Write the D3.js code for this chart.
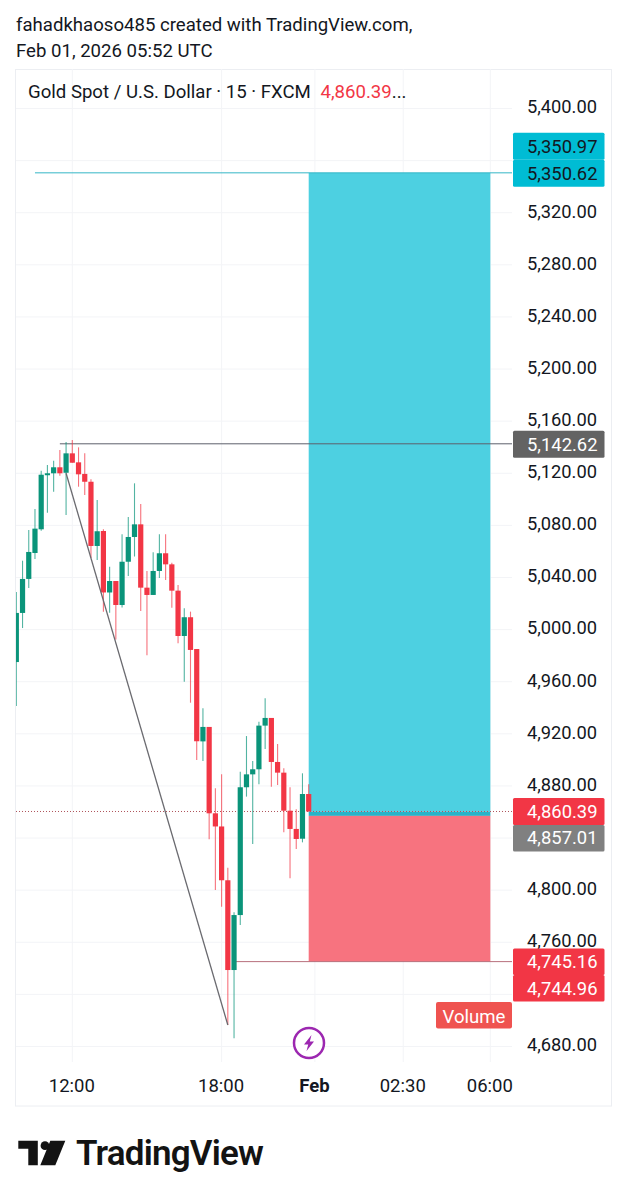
<!DOCTYPE html>
<html><head><meta charset="utf-8">
<script src="https://cdn.jsdelivr.net/npm/d3@7"></script>
<style>
html,body{margin:0;padding:0;background:#fff}
svg{display:block}
text{font-family:Roboto,sans-serif}
</style></head><body>
<div id="chart"></div>
<script>
const firstBar = -9;
const highs  = [5028.9,5052.9,5076.5,5092.6,5122.0,5126.4,5129.7,5137.9,5144.0,5145.5,5139.9,5135.3,5115.4,5099.5,5077.0,5048.3,5037.3,5073.2,5086.4,5112.3,5096.4,5045.0,5059.4,5073.2,5073.2,5051.4,5034.3,5016.4,5013.8,4985.1,4939.6,4925.3,4878.2,4888.9,4817.3,4783.0,4890.9,4918.3,4899.2,4929.3,4947.3,4932.2,4912.2,4893.6,4879.0,4862.1,4889.7,4881.3];
const opens  = [4975.1,5012.8,5038.9,5058.8,5077.0,5118.5,5120.0,5124.6,5120.4,5135.3,5128.4,5119.5,5113.5,5064.2,5075.7,5028.5,5037.3,5018.9,5052.1,5071.1,5080.8,5032.2,5026.6,5045.0,5058.6,5050.1,5029.9,4995.1,5009.5,4985.1,4914.2,4925.3,4859.0,4848.9,4807.6,4738.7,4780.9,4879.0,4888.9,4892.8,4926.3,4932.2,4898.4,4890.2,4861.0,4847.0,4839.5,4873.8];
const closes = [5012.8,5038.9,5059.6,5077.5,5118.9,5120.0,5124.6,5120.0,5135.3,5128.1,5119.2,5113.5,5064.2,5075.5,5028.5,5037.3,5018.9,5052.1,5071.1,5080.8,5032.2,5026.6,5045.0,5058.6,5050.1,5029.9,4995.1,5009.5,4984.4,4914.3,4925.3,4859.0,4848.9,4807.6,4738.7,4780.9,4879.0,4888.9,4892.8,4926.3,4932.2,4898.4,4890.2,4861.0,4847.0,4839.3,4873.8,4860.4];
const lows   = [4941.4,5001.2,5031.9,5054.2,5075.9,5089.7,5105.9,5118.1,5088.0,5128.1,5109.7,5103.3,5055.0,5053.4,5013.8,5013.0,4992.4,5017.0,5041.2,5056.1,5014.3,4980.3,5026.6,5039.6,5038.1,5016.8,4989.5,4960.0,4943.9,4899.9,4899.2,4839.1,4800.1,4787.3,4696.5,4686.3,4773.3,4871.8,4835.4,4881.3,4908.4,4879.4,4880.7,4844.4,4809.1,4831.6,4836.7,4860.4];
const priceTicks = [5400,5360,5320,5280,5240,5200,5160,5120,5080,5040,5000,4960,4920,4880,4840,4800,4760,4720,4680];
const hiddenTicks = [5360,4840,4720];
const timeBars = [0,24,39,53.2,67.2];
const timeLabels = ["12:00","18:00","Feb","02:30","06:00"];
const targetPrice = 5350.62, targetOther = 5350.97;
const highPrice = 5142.62;
const lastPrice = 4860.39, entryPrice = 4857.01;
const stopPrice = 4745.16, stopOther = 4744.96;
const fibFrom = [-1,5120], fibTo = [25,4696.5];
const posStartBar = 38, posEndBar = 67.2;
const targetLineStart = -6, highLineStart = -2, stopLineStart = 26;

const W=627,H=1200;
const paneL=16,paneR=512,paneT=69,paneB=1062;
const UP="#0a947a",DOWN="#f23645";
const x=d3.scaleLinear().domain([0,24]).range([72.3,221.6]);
const y=d3.scaleLinear().domain([5400,4680]).range([108.5,1046.5]);
const fmt=d3.format(",.2f");
const svg=d3.select("#chart").append("svg").attr("width",W).attr("height",H);

svg.append("defs").append("clipPath").attr("id","pane").append("rect")
  .attr("x",paneL).attr("y",paneT).attr("width",paneR-paneL).attr("height",paneB-paneT);

// header
svg.append("text").attr("x",16).attr("y",31).attr("font-size",18.6).attr("fill","#131722").text("fahadkhaoso485 created with TradingView.com,");
svg.append("text").attr("x",16).attr("y",57).attr("font-size",18.6).attr("fill","#131722").text("Feb 01, 2026 05:52 UTC");

// frame
svg.append("rect").attr("x",15.5).attr("y",69.5).attr("width",596).attr("height",1036.5).attr("fill","none").attr("stroke","#eceef2");

// grid
const grid=svg.append("g");
grid.selectAll("line.h").data(priceTicks).join("line").attr("class","h")
  .attr("x1",paneL).attr("x2",paneR).attr("y1",d=>y(d)).attr("y2",d=>y(d)).attr("stroke","#f3f4f7");
grid.selectAll("line.v").data(timeBars).join("line").attr("class","v")
  .attr("x1",d=>x(d)).attr("x2",d=>x(d)).attr("y1",paneT).attr("y2",paneB).attr("stroke","#f3f4f7");

const pane=svg.append("g").attr("clip-path","url(#pane)");

// position
pane.append("rect").attr("x",x(posStartBar)).attr("width",x(posEndBar)-x(posStartBar))
  .attr("y",y(targetPrice)).attr("height",y(lastPrice)-y(targetPrice)).attr("fill","#4dd0e1");
pane.append("rect").attr("x",x(posStartBar)).attr("width",x(posEndBar)-x(posStartBar))
  .attr("y",y(lastPrice)).attr("height",y(entryPrice)-y(lastPrice)).attr("fill","#27b4c8");
pane.append("rect").attr("x",x(posStartBar)).attr("width",x(posEndBar)-x(posStartBar))
  .attr("y",y(entryPrice)).attr("height",y(stopPrice)-y(entryPrice)).attr("fill","#f7737f");

// level lines
pane.append("line").attr("x1",paneL).attr("x2",paneR).attr("y1",y(lastPrice)).attr("y2",y(lastPrice))
  .attr("stroke","#b0545c").attr("stroke-dasharray","1 2");
pane.append("line").attr("x1",x(targetLineStart)).attr("x2",paneR).attr("y1",y(targetPrice)).attr("y2",y(targetPrice)).attr("stroke","#35b6c6");
pane.append("line").attr("x1",x(highLineStart)).attr("x2",paneR).attr("y1",y(highPrice)).attr("y2",y(highPrice)).attr("stroke","#5d606b");
pane.append("line").attr("x1",x(stopLineStart)).attr("x2",paneR).attr("y1",y(stopPrice)).attr("y2",y(stopPrice)).attr("stroke","#b8707c");

// candles
const bars=opens.map((o,i)=>({i:firstBar+i,o,c:closes[i],h:highs[i],l:lows[i]}));
const cg=pane.append("g");
cg.selectAll("line").data(bars).join("line")
  .attr("x1",d=>x(d.i)).attr("x2",d=>x(d.i)).attr("y1",d=>y(d.h)).attr("y2",d=>y(d.l))
  .attr("stroke",d=>d.c>=d.o?UP:DOWN).attr("stroke-opacity",0.7).attr("stroke-width",1.1);
cg.selectAll("rect").data(bars).join("rect")
  .attr("x",d=>x(d.i)-2.6).attr("width",5.2)
  .attr("y",d=>y(Math.max(d.o,d.c))).attr("height",d=>Math.max(1.5,Math.abs(y(d.o)-y(d.c))))
  .attr("fill",d=>d.c>=d.o?UP:DOWN);

// diagonal
pane.append("line").attr("x1",x(fibFrom[0])).attr("y1",y(fibFrom[1])).attr("x2",x(fibTo[0])).attr("y2",y(fibTo[1]))
  .attr("stroke","#6a6a6f").attr("stroke-width",1.3);

// price axis
const axisR=d3.axisRight(y).tickValues(priceTicks.filter(d=>!hiddenTicks.includes(d))).tickSize(0).tickPadding(0).tickFormat(fmt);
const ga=svg.append("g").attr("transform","translate(597,0)").call(axisR);
ga.select(".domain").remove();
ga.selectAll("text").attr("text-anchor","end").attr("x",0).attr("dy","0.32em").attr("y",-1.5)
  .attr("font-size",18.3).attr("font-family","Roboto,sans-serif").attr("fill","#131722");

// time axis
const axisB=d3.axisBottom(x).tickValues(timeBars).tickSize(0).tickPadding(0).tickFormat((d,i)=>timeLabels[i]);
const gb=svg.append("g").attr("transform","translate(-1,1091.5)").call(axisB);
gb.select(".domain").remove();
gb.selectAll("text").attr("y",0).attr("dy",0).attr("font-size",18.5).attr("font-family","Roboto,sans-serif").attr("fill","#131722")
  .attr("font-weight",(d,i)=>timeLabels[i]==="Feb"?700:400);

// price labels
function lab(yTop,h,val,bg,fg){
  svg.append("rect").attr("x",513).attr("y",yTop).attr("width",91.5).attr("height",h).attr("rx",1.5).attr("fill",bg);
  svg.append("text").attr("x",597.5).attr("y",yTop+h/2).attr("dy","0.34em").attr("text-anchor","end").attr("font-size",18.4).attr("fill",fg).text(fmt(val));
}
lab(y(targetPrice)-40,27,targetOther,"#00bcd4","#131722");
lab(y(targetPrice)-13,27,targetPrice,"#00bcd4","#131722");
lab(y(highPrice)-13,27,highPrice,"#636363","#fff");
lab(y(lastPrice)-13.5,27,lastPrice,DOWN,"#fff");
lab(y(lastPrice)+13.5,26.5,entryPrice,"#808080","#fff");
lab(y(stopPrice)-13,26.5,stopPrice,DOWN,"#fff");
lab(y(stopPrice)+13.5,26.5,stopOther,DOWN,"#fff");

// volume tag
svg.append("rect").attr("x",436).attr("y",1002).attr("width",76).attr("height",26.5).attr("rx",2).attr("fill","#ef5350");
svg.append("text").attr("x",474).attr("y",1022.5).attr("text-anchor","middle").attr("font-size",18.6).attr("fill","#fff").text("Volume");

// title
const t=svg.append("text").attr("x",28).attr("y",98).attr("font-size",18.6).attr("fill","#131722");
t.append("tspan").text("Gold Spot / U.S. Dollar · 15 · FXCM");
t.append("tspan").attr("x",320.5).attr("fill",DOWN).text(fmt(lastPrice));
t.append("tspan").attr("fill","#131722").text("...");

// event icon
const ic=svg.append("g").attr("transform","translate(309,1043)");
ic.append("circle").attr("r",15).attr("fill","#fff").attr("stroke","#9c27b0").attr("stroke-width",2.5);
ic.append("path").attr("d","M2.5,-8 L-5,1.5 L-0.8,1.5 L-2.5,8 L5,-1.5 L0.8,-1.5 Z").attr("fill","#9c27b0");

// logo
const lg=svg.append("g").attr("transform","translate(18.3,1140.7)").attr("fill","#131313");
lg.append("path").attr("d","M0,0 H19.5 V24.5 H10 V8 H0 Z");
lg.append("circle").attr("cx",26.7).attr("cy",5).attr("r",4.4);
lg.append("path").attr("d","M32,0 H47 L37,24.5 H22 Z");
svg.append("text").attr("x",76).attr("y",1165).attr("font-family","Inter,sans-serif").attr("font-weight",600).attr("font-size",35).attr("letter-spacing",-0.8).attr("fill","#131313").text("TradingView");
</script>
</body></html>
